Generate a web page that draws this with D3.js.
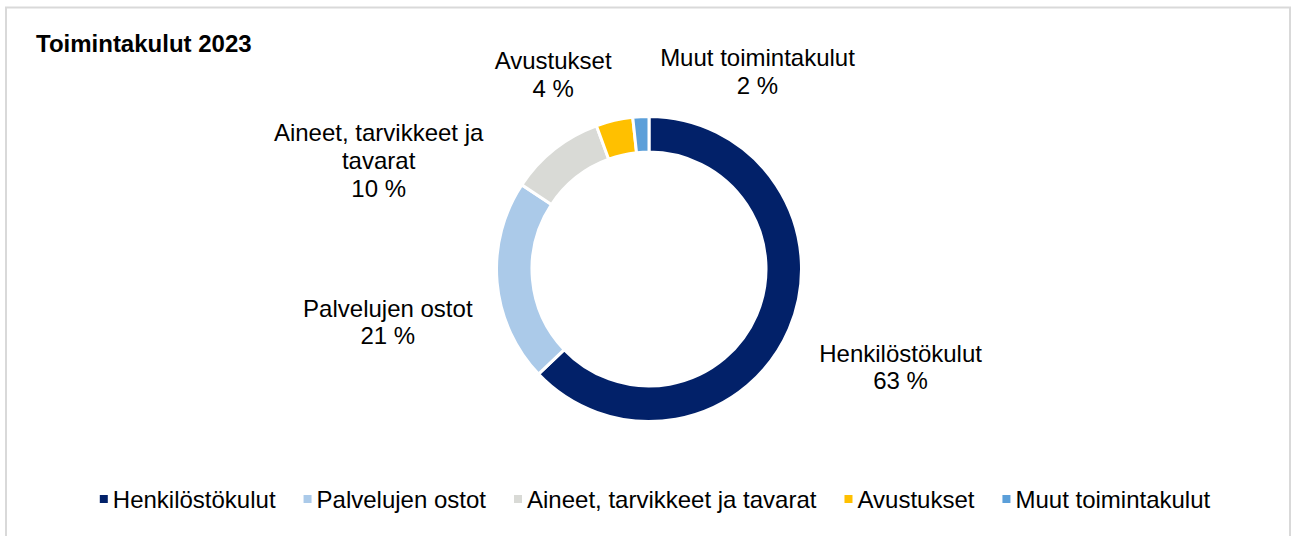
<!DOCTYPE html>
<html>
<head>
<meta charset="utf-8">
<script src="https://cdn.jsdelivr.net/npm/d3@7"></script>
<style>
    html, body { margin: 0; padding: 0; background: #fff; }
    svg { display: block; }
    text { font-family: "Liberation Sans", Arial, sans-serif; fill: #000; }
</style>
</head>
<body>
<div id="chart"></div>
<script>
// Chart data
const title = 'Toimintakulut 2023';
const categories = ['Henkilöstökulut', 'Palvelujen ostot', 'Aineet, tarvikkeet ja tavarat', 'Avustukset', 'Muut toimintakulut'];
const labelLines = [['Henkilöstökulut'], ['Palvelujen ostot'], ['Aineet, tarvikkeet ja', 'tavarat'], ['Avustukset'], ['Muut toimintakulut']];
const values = [62.9, 21.4, 10.1, 3.9, 1.7];
const colors = ['#022169', '#abcae9', '#d9dad6', '#ffc000', '#5b9fd9'];

// Layout
const width = 1292;
const height = 536;
const cx = 649, cy = 269;
const outerR = 152.5, innerR = 117;
const labelR = 215;
const lineH = 27.6;
const fontSize = 24;
// manual nudges for the data labels (Excel placed them by hand-ish)
const labelNudge = [[54, 13], [-47, 34], [-137, 60], [-47, 15], [120, 17]];

const svg = d3.select('#chart')
    .append('svg')
    .attr('width', width)
    .attr('height', height);

// Chart area border
svg.append('rect')
    .attr('x', 6)
    .attr('y', 7.5)
    .attr('width', 1284)
    .attr('height', 560)
    .attr('fill', '#fff')
    .attr('stroke', '#d9d9d9')
    .attr('stroke-width', 2);

svg.append('text')
    .attr('x', 36)
    .attr('y', 52)
    .style('font-size', '24px')
    .style('font-weight', 'bold')
    .text(title);

const pie = d3.pie().sort(null).value(d => d);
const arcs = pie(values);

const arc = d3.arc().innerRadius(innerR).outerRadius(outerR);
const labelArc = d3.arc().innerRadius(labelR).outerRadius(labelR);

const g = svg.append('g')
    .attr('transform', `translate(${cx},${cy})`);

g.selectAll('.slice')
    .data(arcs)
    .enter()
    .append('path')
    .attr('class', 'slice')
    .attr('d', arc)
    .attr('fill', (d, i) => colors[i])
    .attr('stroke', '#fff')
    .attr('stroke-width', 3);

// Data labels
const fmt = v => `${Math.round(v)} %`;
g.selectAll('.label')
    .data(arcs)
    .enter()
    .append('text')
    .attr('class', 'label')
    .attr('text-anchor', 'middle')
    .style('font-size', fontSize + 'px')
    .each(function(d, i) {
        const [x0, y0] = labelArc.centroid(d);
        const x = x0 + labelNudge[i][0];
        const yc = y0 + labelNudge[i][1];
        const lines = labelLines[i].concat([fmt(d.data)]);
        const firstBase = yc - (lines.length - 1) * lineH / 2 + 8.6;
        const t = d3.select(this);
        lines.forEach((ln, k) => {
            t.append('tspan')
                .attr('x', x)
                .attr('y', firstBase + k * lineH)
                .text(ln);
        });
    });

// Legend
const legend = svg.append('g');
const markerSize = 8, markerGap = 5, itemGap = 28;
let lx = 0;
categories.forEach((c, i) => {
    const item = legend.append('g').attr('transform', `translate(${lx},0)`);
    item.append('rect')
        .attr('x', 0)
        .attr('y', -markerSize / 2)
        .attr('width', markerSize)
        .attr('height', markerSize)
        .attr('fill', colors[i]);
    const txt = item.append('text')
        .attr('x', markerSize + markerGap)
        .attr('y', 8.6)
        .style('font-size', fontSize + 'px')
        .text(c);
    lx += markerSize + markerGap + txt.node().getComputedTextLength() + itemGap;
});
const legendW = lx - itemGap;
legend.attr('transform', `translate(${655 - legendW / 2},499)`);
</script>
</body>
</html>
